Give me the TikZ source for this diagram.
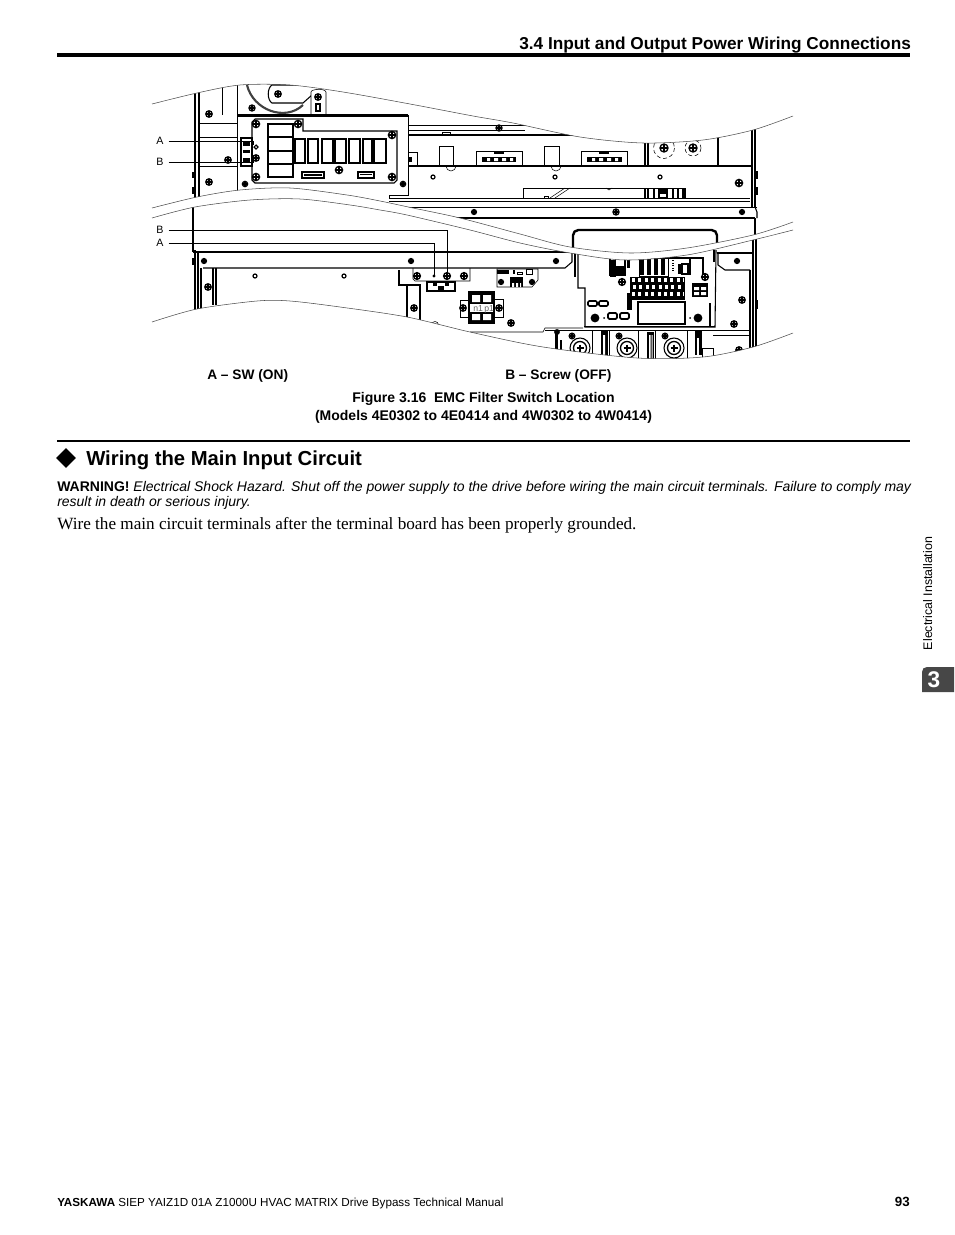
\documentclass[tikz,border=0pt]{standalone}
\usepackage{fontspec}
\setmainfont{Liberation Sans}
\newfontfamily\timesfont{Liberation Serif}
\usetikzlibrary{calc,shapes.geometric}

\tikzset{
  thinln/.style={line width=0.4pt,color=black},
  midln/.style={line width=0.8pt,color=black},
  boldln/.style={line width=1.8pt,color=black},
  breakln/.style={line width=0.4pt,color=black!70},
  leaderln/.style={line width=0.7pt,color=black},
  partlabel/.style={inner sep=3.6pt,font=\fontsize{8}{8}\selectfont},
  txt/.style={anchor=base west,inner sep=0pt},
  ctxt/.style={anchor=base,inner sep=0pt,font=\fontsize{10.5}{10}\selectfont\bfseries},
}

% screw head: ring with a cross
\newcommand{\screw}[3][3.2]{%
  \draw[line width=1pt,fill=white] (#2,#3) circle (#1);
  \draw[line width=1pt] (#2-#1,#3) -- (#2+#1,#3) (#2,#3-#1) -- (#2,#3+#1);}
% small ring
\newcommand{\ringhole}[2]{\draw[line width=0.9pt,fill=white] (#1,#2) circle (2);}
% solid box
\newcommand{\blk}[4]{\fill[black] (#1,#2) rectangle (#3,#4);}
% big terminal bolt
\newcommand{\bolt}[2]{%
  \draw[midln,fill=white] (#1,#2) circle (10);
  \draw[line width=1pt] (#1,#2) circle (6.5);
  \draw[line width=1.4pt] (#1-3.5,#2) -- (#1+3.5,#2) (#1,#2-3.5) -- (#1,#2+3.5);}

\newcommand{\curveone}{(152,104) (197,93) (240,85) (290,85) (343,92) (410,104) (473,116) (513,123) (580,137) (643,143) (703,140) (753,130) (793,116)}
\newcommand{\curvetwo}{(152,208) (197,197) (240,190) (290,188) (347,195) (380,201) (413,208) (460,218) (520,234) (570,247) (630,253) (687,248) (753,235) (793,222)}
\newcommand{\curvethree}{(152,218) (195,207) (250,200) (300,199) (350,205) (380,210) (407,215) (470,230) (520,243) (570,253) (625,260) (687,255) (753,240) (793,230)}
\newcommand{\curvefour}{(152,322) (197,309) (257,301) (290,301) (340,307) (407,317) (470,332) (543,347) (637,358) (703,357) (753,347) (793,333)}
\newcommand{\upperclip}{\clip plot[smooth] coordinates {\curveone} -- plot[smooth] coordinates {(793,222) (753,235) (687,248) (630,253) (570,247) (520,234) (460,218) (413,208) (380,201) (347,195) (290,188) (240,190) (197,197) (152,208)} -- cycle;}

\begin{document}
\begin{tikzpicture}[x=0.75pt,y=-0.75pt]
\useasboundingbox (0,0) rectangle (954,1235);

% page head
\node[txt,font=\fontsize{12.93}{13}\selectfont\bfseries] (headtxt) at (519,49) {3.4 Input and Output Power Wiring Connections};
\draw[line width=2.4pt] (57,55) -- (910,55);

% upper cut-out
\begin{scope}
\upperclip
\draw[midln] (195,85) -- (195,215) (199,85) -- (199,215);
\draw[thinln] (222,85) -- (222,115) (237,85) -- (237,115) (199,123) -- (237,123);
\draw[thinln] (199,137) -- (237,137) (199,166) -- (237,166);
\draw[line width=1.6pt,color=black!75] (247,85) .. controls (253,110) and (285,122) .. (303,105);
\draw[midln,fill=white] (312,95) -- (303,103) -- (272,103) .. controls (267,100) and (267,88) .. (272,85) -- (312,85);
\screw{278}{94}
\draw[thinln,fill=white] (311,115) -- (311,92) .. controls (311,89) and (325,88) .. (326,92) -- (326,115);
\screw{318}{97}
\draw[midln] (316,104) rectangle (320,111);
\screw[3]{252}{108}
\screw{209}{114}
\screw{209}{182}
\screw{228}{160}
\blk{192}{172}{194.5}{178}
\blk{192}{187}{194.5}{194}
% right part of the frame
\draw[thinln] (408,125) -- (547,125) (408,130) -- (525,130);
\draw[midln] (408,135) -- (645,135);
\draw[midln] (408,166) -- (752,166);
\draw[line width=1.4pt] (389,198.5) -- (750,198.5);
\draw[thinln] (389,201) -- (750,201) (197,207) -- (757,207);
\draw[boldln] (390,218) -- (755,218);
\draw[midln] (645,135) -- (645,166) (648,135) -- (648,166);
\draw[line width=1.3pt] (718,135) -- (718,166);
\draw[midln] (752,120) -- (752,207) (755,120) -- (755,207);
\draw[line width=0.8pt,fill=white] (755,207) -- (757,212) -- (757,218);
\blk{755}{171}{757.5}{179}
\blk{755}{187}{757.5}{195}
\draw[thinln] (408,152) -- (417,152) -- (417,166);
\blk{409}{157}{412}{162}
\draw[thinln] (439,166) -- (439,146) -- (453,146) -- (453,166);
\draw[thinln] (442,135) -- (442,132) -- (450,132) -- (450,135);
\draw[thinln] (476,166) -- (476,151) -- (522,151) -- (522,166);
\draw[thinln] (544,166) -- (544,146) -- (559,146) -- (559,166);
\draw[thinln] (581,166) -- (581,151) -- (627,151) -- (627,166);
\blk{482}{157}{516}{162}
\blk{587}{157}{622}{162}
\fill[white] (487,158) rectangle (490,161) (494,158) rectangle (498,161) (502,158) rectangle (506,161) (510,158) rectangle (513,161);
\fill[white] (592,158) rectangle (595,161) (599,158) rectangle (603,161) (607,158) rectangle (611,161) (615,158) rectangle (618,161);
\draw[thinln] (446,166) arc (180:0:5) (551,166) arc (180:0:5);
\blk{494}{152}{504}{154}
\blk{599}{152}{609}{154}
\screw[3]{499}{128}
\draw[thinln,densely dashed] (664,148) circle (10.5);
\screw[4]{664}{148}
\draw[thinln,densely dashed] (693,148) circle (8);
\screw[4]{693}{148}
\ringhole{433}{177}
\ringhole{555}{177}
\ringhole{660}{177}
\screw[3.6]{739}{183}
\draw[thinln] (523,198) -- (523,188) -- (685,188) -- (685,198);
\draw[thinln] (550,198) -- (565,188) (555,198) -- (570,188) (606,188) -- (609,190) -- (612,188);
\draw[thinln] (544,196) rectangle (548,198);
\draw[midln] (645,188) -- (645,198) (648,188) -- (648,198) (654,188) -- (654,198);
\blk{658}{188}{668}{198}
\blk{672}{188}{674}{198}
\blk{677}{188}{679}{198}
\blk{682}{188}{685}{198}
\fill[white] (660,194) rectangle (666,197);
\screw[2.4]{474}{212}
\screw[3]{616}{212}
\screw[2.4]{742}{212}
% control board
\draw[thinln,fill=white] (237,195) -- (237,115) -- (408,115) -- (408,195) -- (389,195) -- (389,198);
\draw[line width=1.8pt] (237,115.5) -- (408,115.5);
\draw[midln] (263,119) -- (303,119) -- (303,131) -- (397,131) -- (397,180) -- (394,183) -- (255,183) -- (252,180) -- (252,122) -- (255,119) -- cycle;
\draw[line width=1.6pt] (268,124) rectangle (293,177) (268,137) -- (293,137) (268,151) -- (293,151) (268,164) -- (293,164);
\draw[line width=1.3pt] (295,139) rectangle (305,163) (308,139) rectangle (318,163) (322,139) rectangle (333,163);
\draw[line width=1.3pt] (335,139) rectangle (346,163) (349,139) rectangle (360,163) (363,139) rectangle (372,163);
\draw[line width=1.3pt] (374,139) rectangle (386,163);
\draw[midln] (302,172) rectangle (324,178);
\blk{304}{174}{322}{176}
\draw[midln] (358,172) rectangle (374,178);
\blk{360}{174}{372}{175}
\screw[3.6]{256}{124}
\screw[3.6]{298}{124}
\screw[3.6]{392}{135}
\screw[3.6]{256}{177}
\screw[3.6]{392}{177}
\screw[3.6]{339}{170}
\screw[2.6]{245}{184}
\screw[2.6]{403}{184}
\screw{256}{158}
% switch block
\draw[midln] (241,138) rectangle (252,166);
\blk{243}{141}{250}{146}
\blk{243}{150}{250}{153}
\blk{243}{158}{250}{162}
\draw[midln] (256,145) -- (258,147) -- (256,149) -- (254,147) -- cycle;
\end{scope}

% lower cut-out
\begin{scope}
\clip plot[smooth] coordinates {\curvethree} -- plot[smooth] coordinates {(793,333) (753,347) (703,357) (637,358) (543,347) (470,332) (407,317) (340,307) (290,301) (257,301) (197,309) (152,322)} -- cycle;
\draw[midln] (193,200) -- (193,252);
\draw[midln] (195,250) -- (195,315);
\draw[line width=1.6pt] (198,252) -- (198,315) (201,268) -- (201,315);
\draw[boldln] (193,252) -- (572,252);
\draw[midln] (572,252) -- (572,262) -- (565,268) -- (203,268);
\draw[midln] (213,268) -- (213,305) (216,268) -- (216,305);
\blk{192}{258}{194.5}{265}
\screw[2.4]{204}{261}
\screw[2.4]{411}{261}
\screw[2.4]{556}{261}
\screw{208}{287}
\ringhole{255}{276}
\ringhole{344}{276}
% left bracket
\draw[midln] (399,270) -- (399,285) -- (420,285) -- (420,325);
\draw[line width=1.6pt] (407,285) -- (407,318);
\screw{414}{308}
\draw[thinln] (413,268) -- (413,279) -- (415,281) -- (470,281) -- (470,268);
\screw[3.4]{417}{276}
\screw[3.4]{447}{276}
\screw[3.4]{464}{276}
\fill (434,276) circle (1.6);
\draw[line width=1.4pt] (427,282) rectangle (455,291);
\blk{433}{282}{437}{286}
\blk{445}{282}{449}{286}
\blk{438}{286}{444}{290}
\draw[thinln] (460,300) rectangle (468,317);
\screw{463}{308}
\draw[thinln,fill=white] (494,299) rectangle (503,317);
\screw{499}{308}
\screw{511}{323}
\draw[thinln] (435,325) circle (3.5);
\draw[line width=1.2pt,fill=white] (469,292) rectangle (494,323);
\blk{470}{293}{493}{304}
\blk{470}{312}{493}{322}
\fill[white] (472,295) rectangle (480,302) (483,295) rectangle (491,302);
\fill[white] (472,314) rectangle (480,320) (483,314) rectangle (491,320);
\node[txt,text=black!60,font=\fontsize{6.5}{6}\selectfont] (termtxt) at (473,311) {n1\,p1};
\draw[thinln] (497,269) -- (538,269) -- (538,280) -- (532,287) -- (497,287) -- cycle;
\blk{497}{270}{509}{274}
\draw[thinln] (526,269) rectangle (532,274);
\blk{513}{270}{514.5}{274}
\draw[thinln] (517,272) rectangle (522,274);
\blk{510}{277}{523}{287}
\fill[white] (512,283) rectangle (514,287) (516,283) rectangle (518,287) (520,283) rectangle (521,287);
\screw[2.4]{501}{282}
\screw[2.4]{532}{282}
\draw[thinln] (470,332) -- (543,332) -- (545,328) -- (583,328);
% bottom terminals
\draw[thinln] (545,330) -- (750,330) (713,335) -- (750,335);
\blk{555}{330}{558}{360}
\blk{560}{340}{562}{360}
\draw[thinln] (592,330) -- (592,360) (609,330) -- (609,360) (638,330) -- (638,360) (655,330) -- (655,360) (687,330) -- (687,360);
\blk{601}{331}{608}{360}
\blk{647}{332}{654}{360}
\blk{695}{331}{702}{355}
\fill[white] (603,335) rectangle (605,360) (649,335) rectangle (650.5,360) (651.5,335) rectangle (652.5,360);
\fill[white] (697,338) rectangle (699,355);
\bolt{580}{348}
\bolt{627}{348}
\bolt{674}{348}
\screw[2.2]{557}{332}
\screw[2.8]{572}{336}
\screw[2.8]{619}{336}
\screw[2.8]{665}{336}
\draw[thinln] (702,348) rectangle (713,360);
% right frame
\draw[midln] (717,253) -- (753,253);
\draw[midln] (718,253) -- (718,265) -- (725,270) -- (750,270);
\draw[midln] (750,270) -- (750,360) (753,225) -- (753,360) (756,225) -- (756,360);
\blk{755}{300}{758}{309}
\screw[2.4]{737}{261}
\screw{742}{300}
\screw{734}{324}
\screw{739}{350}
% inverter board
\draw[midln,fill=white] (578,250) -- (578,288) -- (585,288) -- (585,327) -- (715,327) -- (716,250);
\draw[line width=1.6pt] (575,250) -- (575,277) (714,250) -- (714,262) (710,303) -- (710,326);
\draw[line width=1.4pt] (584,326.5) -- (715,326.5);
\draw[midln] (645,258) -- (703,258) -- (703,275);
\draw[midln] (690,258) -- (690,275);
\blk{610}{260}{616}{277}
\draw[midln] (610,258) rectangle (625,275);
\blk{614}{266}{625}{275}
\blk{627}{258}{630}{268}
\draw[thinln] (639,258) rectangle (668,276);
\blk{640}{258}{644}{275}
\blk{647}{258}{651}{275}
\blk{654}{258}{658}{275}
\blk{661}{258}{665}{275}
\draw[midln] (682,264) rectangle (688,274);
\blk{678}{264}{682}{274}
\draw[line width=0.8pt,densely dotted] (673,258) -- (673,272);
\blk{630}{277}{685}{300}
\draw[line width=2.6pt,color=white,dash pattern=on 2.2pt off 2.6pt] (632,280) -- (684,280);
\draw[line width=2.6pt,color=white,dash pattern=on 2.2pt off 2.6pt] (633,287) -- (684,287);
\draw[line width=2.6pt,color=white,dash pattern=on 2.2pt off 2.6pt] (632,294) -- (684,294);
\screw[3.4]{622}{282}
\screw[3.4]{705}{277}
\blk{692}{283}{708}{297}
\fill[white] (694,287) rectangle (699,290) (701,287) rectangle (706,290) (694,292) rectangle (699,295) (701,292) rectangle (706,295);
\blk{627}{293}{632}{310}
\draw[midln] (638,302) rectangle (685,324);
\draw[line width=1.2pt,rounded corners=1pt] (588,301) rectangle (597,306) (599,301) rectangle (608,306);
\draw[line width=1.4pt,rounded corners=1pt] (608,313) rectangle (617,319) (620,313) rectangle (629,319);
\fill (595,318) circle (4.4);
\screw[2]{595}{318}
\fill (698,318) circle (4.4);
\screw[2]{698}{318}
\fill (604,318) circle (1) (690,318) circle (1);
\end{scope}

% cover of the board, seen through the upper cut-out
\begin{scope}
\upperclip
\draw[midln] (755,218) -- (755,250);
\draw[line width=1.8pt,rounded corners=4pt] (573,252) -- (573,230) -- (717,230) -- (717,252);
\end{scope}

\draw[breakln] plot[smooth] coordinates {\curveone};
\draw[breakln] plot[smooth] coordinates {\curvetwo};
\draw[breakln] plot[smooth] coordinates {\curvethree};
\draw[breakln] plot[smooth] coordinates {\curvefour};

% part labels and leaders
\node[partlabel] (labAtop) at (160,141) {A};
\node[partlabel] (labBtop) at (160,162) {B};
\node[partlabel] (labBbot) at (160,230) {B};
\node[partlabel] (labAbot) at (160,243) {A};
\coordinate (swon) at (253,141);
\coordinate (swonend) at (253,145);
\coordinate (scroff) at (253,162);
\coordinate (scroffend) at (253,160);
\coordinate (botB) at (447,276);
\coordinate (botA) at (434,276);
\draw[leaderln] (labAtop) -- (swon) -- (swonend);
\draw[leaderln] (labBtop) -- (scroff) -- (scroffend);
\draw[leaderln] (labBbot) -| (botB);
\draw[leaderln] (labAbot) -| (botA);

% captions
\node[ctxt,anchor=base west,font=\fontsize{10.3}{10}\selectfont\bfseries] (capA) at (207,379) {A -- SW (ON)};
\node[ctxt,anchor=base west,font=\fontsize{10.3}{10}\selectfont\bfseries] (capB) at (505,379) {B -- Screw (OFF)};
\node[ctxt] (figtitle) at (483.5,402) {Figure 3.16\ \ EMC Filter Switch Location};
\node[ctxt] (figsub) at (483.5,420) {(Models 4E0302 to 4E0414 and 4W0302 to 4W0414)};

% section
\draw[line width=1pt] (57,441) -- (910,441);
\node[diamond,fill=black,inner sep=0pt,minimum width=15pt,minimum height=15pt] (secmark) at (66,458) {};
\node[txt,font=\fontsize{15.2}{16}\selectfont\bfseries] (sectxt) at (86,465) {Wiring the Main Input Circuit};
\node[txt,font=\fontsize{10.5}{10}\selectfont] (warn1) at (57,491) {\textbf{WARNING!} \textit{Electrical Shock Hazard. Shut off the power supply to the drive before wiring the main circuit terminals. Failure to comply may}};
\node[txt,font=\fontsize{10.5}{10}\selectfont\itshape] (warn2) at (57,506) {result in death or serious injury.};
\node[txt,font=\fontsize{12.87}{13}\selectfont\timesfont] (bodytxt) at (57,529) {Wire the main circuit terminals after the terminal board has been properly grounded.};

% side tab
\node[rotate=90,anchor=base,inner sep=0pt,font=\fontsize{9.3}{9}\selectfont] (sidetxt) at (932,593.5) {Electrical Installation};
\path[fill=black!72] (954,667) -- (927,667) .. controls (924,667) and (922,669) .. (922,672) -- (922,692) -- (954,692) -- cycle;
\node[inner sep=0pt,text=white,font=\fontsize{17}{18}\selectfont\bfseries] (tabnum) at (934,679.5) {3};

% foot
\node[txt,font=\fontsize{8.75}{9}\selectfont] (foot) at (57,1206) {\textbf{YASKAWA} SIEP YAIZ1D 01A Z1000U HVAC MATRIX Drive Bypass Technical Manual};
\node[anchor=base east,inner sep=0pt,font=\fontsize{10}{10}\selectfont\bfseries] (pageno) at (910,1206) {93};
\end{tikzpicture}
\end{document}
